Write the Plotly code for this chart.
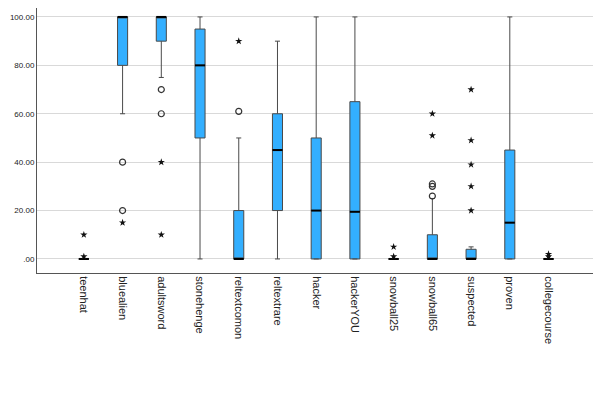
import plotly.graph_objects as go

categories = ["teenhat", "bluealien", "adultsword", "stonehenge", "reltextcomon",
              "reltextrare", "hacker", "hackerYOU", "snowball25", "snowball65",
              "suspected", "proven", "collegecourse"]
q1 =      [0, 80, 90, 50, 0, 20, 0, 0, 0, 0, 0, 0, 0]
median =  [0, 100, 100, 80, 0, 45, 20, 19.5, 0, 0, 0, 15, 0]
q3 =      [0, 100, 100, 95, 20, 60, 50, 65, 0, 10, 4, 45, 0]
lower =   [0, 60, 75, 0, 0, 0, 0, 0, 0, 0, 0, 0, 0]
upper =   [0, 100, 100, 100, 50, 90, 100, 100, 0, 25, 5, 100, 0]
# outliers (circles) and extremes (stars)
circles = {"bluealien": [40, 20], "adultsword": [70, 60], "reltextcomon": [61],
           "snowball65": [26, 30, 31]}
stars = {"teenhat": [10, 1], "bluealien": [15], "adultsword": [40, 10],
         "reltextcomon": [90], "snowball25": [5, 1], "snowball65": [51, 60],
         "suspected": [20, 30, 39, 49, 70], "collegecourse": [1, 2]}
yticks = [0, 20, 40, 60, 80, 100]
yticktext = [".00", "20.00", "40.00", "60.00", "80.00", "100.00"]

BOXW = 0.26
fig = go.Figure()
for i, c in enumerate(categories):
    fig.add_trace(go.Box(
        x=[i], q1=[q1[i]], median=[median[i]], q3=[q3[i]],
        lowerfence=[lower[i]], upperfence=[upper[i]],
        width=BOXW, whiskerwidth=0.5,
        fillcolor="#33AFFF", line=dict(color="#4a4a4a", width=1),
        boxpoints=False, showlegend=False, hoverinfo="skip"))

# thick median lines
mx, my = [], []
for i in range(len(categories)):
    mx += [i - BOXW / 2, i + BOXW / 2, None]
    my += [median[i], median[i], None]
fig.add_trace(go.Scatter(x=mx, y=my, mode="lines",
                         line=dict(color="black", width=2),
                         showlegend=False, hoverinfo="skip"))

cx, cy = [], []
for k, vals in circles.items():
    i = categories.index(k)
    cx += [i] * len(vals); cy += vals
fig.add_trace(go.Scatter(x=cx, y=cy, mode="markers",
                         marker=dict(symbol="circle-open", size=6,
                                     color="#333", line=dict(width=1.2)),
                         showlegend=False))
sx, sy = [], []
for k, vals in stars.items():
    i = categories.index(k)
    sx += [i] * len(vals); sy += vals
fig.add_trace(go.Scatter(x=sx, y=sy, mode="markers",
                         marker=dict(symbol="star", size=5.5, color="#111"),
                         showlegend=False))

fig.update_layout(
    width=593, height=385,
    margin=dict(l=29, r=6, t=0, b=120),
    plot_bgcolor="white", paper_bgcolor="white",
    font=dict(family="Liberation Sans, Arial, sans-serif", color="#222"),
    xaxis=dict(range=[-1.21, 13.2], tickvals=list(range(len(categories))),
               ticktext=categories, tickangle=90, showgrid=False,
               showline=True, linecolor="#555", linewidth=1, automargin=False,
               zeroline=False, ticks="", tickfont=dict(size=11)),
    yaxis=dict(range=[-5.8, 103.7], tickvals=yticks, ticktext=yticktext,
               showgrid=True, gridcolor="#d9d9d9", gridwidth=1, automargin=False,
               showline=True, linecolor="#555", linewidth=1,
               zeroline=False, ticks="", tickfont=dict(size=8)),
)
fig.write_html("out.html")
